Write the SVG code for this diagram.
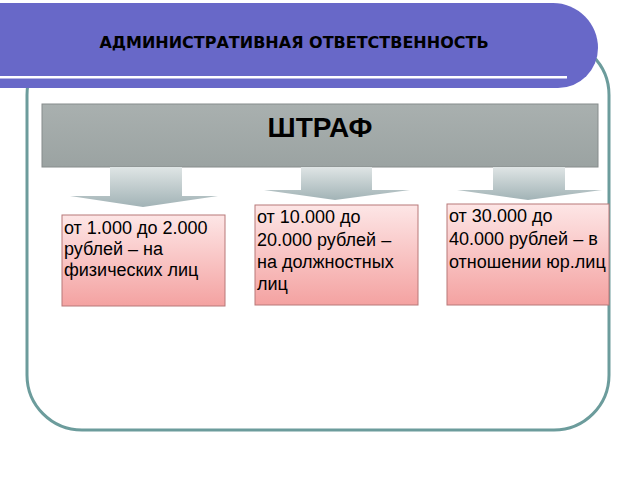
<svg xmlns="http://www.w3.org/2000/svg" width="640" height="480" viewBox="0 0 640 480">
<defs>
<linearGradient id="gGray" x1="0" y1="0" x2="0" y2="1">
<stop offset="0" stop-color="#a9b0af"/><stop offset="1" stop-color="#9ba3a2"/>
</linearGradient>
<linearGradient id="gArrow" x1="0" y1="0" x2="0" y2="1">
<stop offset="0" stop-color="#dfe5e5"/><stop offset="1" stop-color="#a2b3b6"/>
</linearGradient>
<linearGradient id="gPink" x1="0" y1="0" x2="0" y2="1">
<stop offset="0" stop-color="#fde6e6"/><stop offset="1" stop-color="#f4a2a1"/>
</linearGradient>
</defs>
<style>
.frame{fill:#ffffff;stroke:#6c9c9c;stroke-width:3}
.banner{fill:#6868c8}
.title{font-family:"DejaVu Sans","Liberation Sans",sans-serif;font-weight:bold;font-size:16px;fill:#000}
.head{fill:url(#gGray);stroke:#868c8c;stroke-width:1}
.headtxt{font-family:"Liberation Sans",Arial,sans-serif;font-weight:bold;font-size:28px;fill:#000}
.arrow{fill:url(#gArrow);stroke:none}
.box{fill:url(#gPink);stroke:#b87878;stroke-width:1}
.txt{font-family:"Liberation Sans",Arial,sans-serif;font-size:18px;fill:#000}
</style>
<rect width="640" height="480" fill="#ffffff"/>
<rect class="frame" x="27" y="40" width="582" height="390" rx="55" ry="55"/>
<g id="banner">
<path class="banner" d="M-5,3 H553 A45,45 0 0 1 598,48 A40,40 0 0 1 558,88 H-5 Z"/>
<rect x="0" y="76" width="567" height="2.5" fill="#ffffff"/>
<text class="title" x="294" y="48" text-anchor="middle">АДМИНИСТРАТИВНАЯ ОТВЕТСТВЕННОСТЬ</text>
</g>
<g id="shtraf">
<rect class="head" x="42" y="104" width="556" height="63"/>
<text class="headtxt" x="320" y="137" text-anchor="middle">ШТРАФ</text>
</g>
<g id="connectors">
<path class="arrow" d="M110,167 H182 V196 H218 L143,207 L70,196 H110 Z"/>
<path class="arrow" d="M301,167 H372 V190 H410 L335,200 L264,190 H301 Z"/>
<path class="arrow" d="M493,167 H565 V190 H602 L528,200 L457,190 H493 Z"/>
</g>
<g id="box1">
<rect class="box" x="62" y="215" width="163" height="91"/>
<text class="txt" x="64" y="234">от 1.000 до 2.000</text>
<text class="txt" x="64" y="255">рублей – на</text>
<text class="txt" x="64" y="276">физических лиц</text>
</g>
<g id="box2">
<rect class="box" x="255" y="205" width="163" height="100"/>
<text class="txt" x="257" y="223">от 10.000 до</text>
<text class="txt" x="257" y="246">20.000 рублей –</text>
<text class="txt" x="257" y="268">на должностных</text>
<text class="txt" x="257" y="290">лиц</text>
</g>
<g id="box3">
<rect class="box" x="447" y="204" width="162" height="101"/>
<text class="txt" x="449" y="222">от 30.000 до</text>
<text class="txt" x="449" y="245">40.000 рублей – в</text>
<text class="txt" x="449" y="268">отношении юр.лиц</text>
</g>
</svg>
